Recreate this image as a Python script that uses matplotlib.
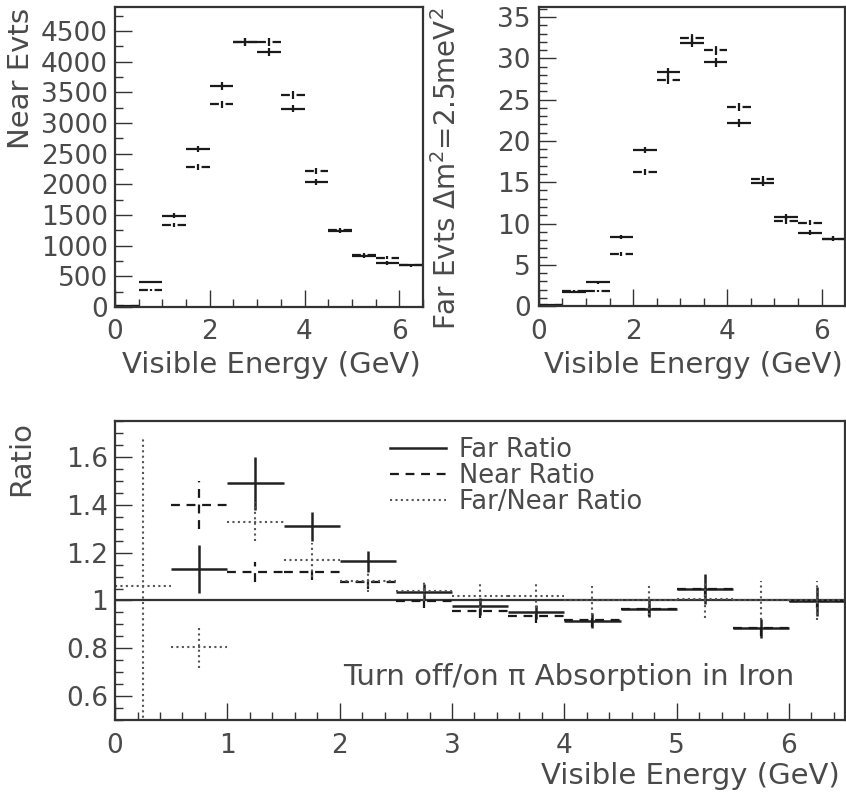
import numpy as np
import matplotlib.pyplot as plt
from matplotlib.lines import Line2D
from matplotlib.ticker import MultipleLocator

# bins of visible energy (GeV)
bin_centers = [0.25, 0.75, 1.25, 1.75, 2.25, 2.75, 3.25, 3.75, 4.25, 4.75, 5.25, 5.75, 6.25]
half_width = 0.25

# near detector events: pi absorption off (solid) / on (dashed)
near_off = [15, 408, 1485, 2574, 3602, 4315, 4152, 3232, 2040, 1240, 827, 718, 680]
near_off_err = [5, 20, 40, 50, 60, 65, 65, 57, 45, 35, 29, 27, 26]
near_on = [15, 283, 1333, 2285, 3308, 4315, 4326, 3455, 2220, 1251, 843, 805, 680]
near_on_err = [5, 17, 37, 48, 58, 65, 66, 59, 47, 35, 29, 28, 26]

# far detector events, dm2 = 2.5 meV^2
far_off = [0.1, 1.74, 2.87, 8.33, 18.9, 28.3, 31.9, 29.5, 22.15, 14.95, 10.75, 8.9, 8.16]
far_off_err = [0.05, 0.1, 0.15, 0.25, 0.4, 0.5, 0.55, 0.55, 0.5, 0.4, 0.35, 0.3, 0.3]
far_on = [0.1, 1.86, 1.86, 6.3, 16.25, 27.4, 32.45, 30.96, 24.1, 15.4, 10.3, 10.1, 8.16]
far_on_err = [0.05, 0.1, 0.12, 0.22, 0.38, 0.5, 0.55, 0.55, 0.5, 0.4, 0.34, 0.33, 0.3]

# ratios
far_ratio = [np.nan, 1.13, 1.49, 1.31, 1.163, 1.035, 0.975, 0.951, 0.916, 0.965, 1.049, 0.883, 0.997]
far_ratio_err = [np.nan, 0.10, 0.11, 0.06, 0.042, 0.035, 0.035, 0.03, 0.03, 0.035, 0.063, 0.04, 0.06]
near_ratio = [np.nan, 1.399, 1.119, 1.119, 1.077, 0.997, 0.958, 0.937, 0.919, 0.965, 1.046, 0.883, 0.997]
near_ratio_err = [np.nan, 0.10, 0.04, 0.035, 0.03, 0.03, 0.03, 0.03, 0.03, 0.03, 0.03, 0.03, 0.03]
fn_ratio = [1.06, 0.807, 1.33, 1.17, 1.08, 1.038, 1.02, 1.017, 1.0, 1.0, 1.007, 1.0, 1.0]
fn_ratio_err = [0.62, 0.09, 0.08, 0.07, 0.045, 0.04, 0.05, 0.05, 0.06, 0.06, 0.08, 0.08, 0.08]

text_col = '#4a4a4a'
frame_col = '#333333'
line_col = '#1a1a1a'

plt.rcParams['font.family'] = ['DejaVu Sans']

W, H = 846, 793


def draw(ax, y, yerr, ls, lw=1.6, color=line_col):
    x = np.array(bin_centers)
    y = np.array(y, dtype=float)
    yerr = np.array(yerr, dtype=float)
    ok = ~np.isnan(y)
    eb = ax.errorbar(x[ok], y[ok], xerr=half_width, yerr=yerr[ok], fmt='none',
                     ecolor=color, elinewidth=lw, capsize=0)
    for c in eb[2]:
        c.set_linestyle(ls)


def style(ax, xmaj, xmin, ymaj, ymin, xpad=9, ypad=5):
    for s in ax.spines.values():
        s.set_color(frame_col)
        s.set_linewidth(1.6)
    ax.xaxis.set_major_locator(MultipleLocator(xmaj))
    ax.xaxis.set_minor_locator(MultipleLocator(xmin))
    ax.yaxis.set_major_locator(MultipleLocator(ymaj))
    ax.yaxis.set_minor_locator(MultipleLocator(ymin))
    ax.tick_params(which='both', direction='in', colors=frame_col, labelcolor=text_col,
                   labelsize=19, width=1.0)
    ax.tick_params(axis='x', which='both', pad=xpad)
    ax.tick_params(axis='y', which='both', pad=ypad)
    ax.tick_params(which='major', length=12)
    ax.tick_params(which='minor', length=6)


def label(x, y, s, **kw):
    fig.text(x / W, 1 - y / H, s, color=text_col, **kw)


dash = (0, (4, 3))
dot = (0, (1, 1.6))

fig = plt.figure(figsize=(8.46, 7.93), dpi=100)

# near events
ax1 = fig.add_axes([0.136, 0.613, 0.364, 0.378])
draw(ax1, near_off, near_off_err, '-')
draw(ax1, near_on, near_on_err, dash)
ax1.set_xlim(0, 6.5)
ax1.set_ylim(0, 4890)
style(ax1, 2, 0.5, 500, 250)
label(21, 8, 'Near Evts', rotation=90, ha='center', va='top', fontsize=21)
label(421, 373, 'Visible Energy (GeV)', ha='right', va='baseline', fontsize=21)

# far events
ax2 = fig.add_axes([0.637, 0.614, 0.362, 0.377])
draw(ax2, far_off, far_off_err, '-')
draw(ax2, far_on, far_on_err, dash)
ax2.set_xlim(0, 6.5)
ax2.set_ylim(0, 36.2)
style(ax2, 2, 0.5, 5, 1, ypad=6)
label(447, 8, 'Far Evts \u0394m$^2$=2.5meV$^2$', rotation=90, ha='center', va='top',
      fontsize=20)
label(843, 373, 'Visible Energy (GeV)', ha='right', va='baseline', fontsize=21)

# ratios
ax3 = fig.add_axes([0.136, 0.092, 0.863, 0.377])
ax3.axhline(1.0, color='#333333', lw=1.6)
draw(ax3, far_ratio, far_ratio_err, '-', lw=1.8, color='#222222')
draw(ax3, near_ratio, near_ratio_err, dash, lw=1.6)
draw(ax3, fn_ratio, fn_ratio_err, dot, lw=1.5, color='#555555')
ax3.set_xlim(0, 6.5)
ax3.set_ylim(0.5, 1.75)
style(ax3, 1, 0.2, 0.2, 0.05, xpad=9)
ax3.set_yticks([0.6, 0.8, 1.0, 1.2, 1.4, 1.6])
ax3.set_yticklabels(['0.6', '0.8', '1', '1.2', '1.4', '1.6'])
label(21, 421, 'Ratio', rotation=90, ha='center', va='top', fontsize=21)
label(840, 784, 'Visible Energy (GeV)', ha='right', va='baseline', fontsize=21)
ax3.text(0.312, 0.117, 'Turn off/on \u03c0 Absorption in Iron', transform=ax3.transAxes,
         ha='left', va='baseline', fontsize=21, color=text_col)

handles = [Line2D([], [], color='#222222', lw=1.8, ls='-'),
           Line2D([], [], color=line_col, lw=1.6, ls=dash),
           Line2D([], [], color='#555555', lw=1.5, ls=dot)]
leg = ax3.legend(handles, ['Far Ratio', 'Near Ratio', 'Far/Near Ratio'],
                 loc='upper left', bbox_to_anchor=(0.376, 0.946), frameon=False,
                 fontsize=18.5, handlelength=2.2, handletextpad=0.5, labelspacing=0.0,
                 borderpad=0, borderaxespad=0)
for t in leg.get_texts():
    t.set_color(text_col)

fig.savefig('out.png', dpi=100)
